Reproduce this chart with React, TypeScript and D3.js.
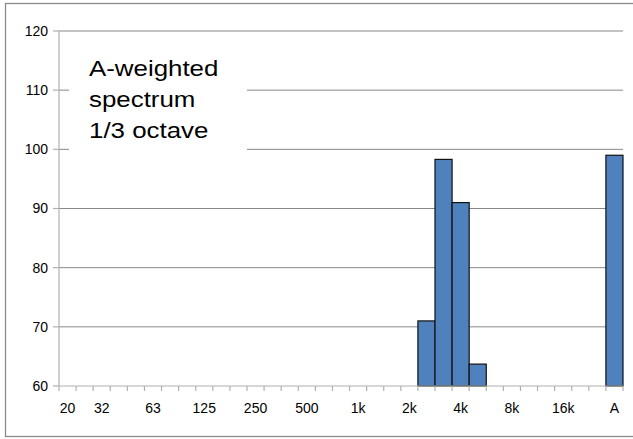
import * as d3 from 'd3';

const W = 633;
const H = 439;
const MARGIN = {top: 31, right: 10, bottom: 53, left: 59};

// 1/3 octave bands, one empty slot, then the A-weighted total
const bands = [
	'20', '25', '31.5', '40', '50', '63', '80', '100', '125', '160', '200',
	'250', '315', '400', '500', '630', '800', '1k', '1.25k', '1.6k', '2k',
	'2.5k', '3.15k', '4k', '5k', '6.3k', '8k', '10k', '12.5k', '16k', '20k',
	'gap', 'A',
];
const levels: Record<string, number> = {
	'2.5k': 71, '3.15k': 98.3, '4k': 91, '5k': 63.7, 'A': 99,
};
const tickBands = ['20', '31.5', '63', '125', '250', '500', '1k', '2k', '4k', '8k', '16k', 'A'];
const tickLabels = ['20', '32', '63', '125', '250', '500', '1k', '2k', '4k', '8k', '16k', 'A'];
const yTicks = [60, 70, 80, 90, 100, 110, 120];
const titleLines = ['A-weighted', 'spectrum', '1/3 octave'];

const FONT = '"Liberation Sans", Arial, sans-serif';

const App = () => {
	const x = d3.scaleBand<string>()
		.domain(bands)
		.range([MARGIN.left, W - MARGIN.right])
		.padding(0);
	const y = d3.scaleLinear()
		.domain([60, 120])
		.range([H - MARGIN.bottom, MARGIN.top]);

	const x0 = MARGIN.left;
	const x1 = W - MARGIN.right;
	const yBase = y(60);
	const bw = x.bandwidth();

	// tick positions on band edges
	const edges = bands.map(b => x(b) as number).concat([x1]);

	return (
		<svg width={W} height={H} style={{position: 'absolute', left: 0, top: 0}}>
			<rect x={0} y={0} width={W} height={H} fill="#fff" />
			<rect x={5.5} y={3.5} width={W} height={433} fill="none" stroke="#8a8a8a" strokeWidth={1.3} />

			{/* gridlines */}
			{yTicks.filter(t => t > 60).map(t => (
				<line key={t} x1={x0} x2={x1} y1={y(t)} y2={y(t)} stroke="#888" strokeWidth={1} />
			))}

			{/* title box */}
			<rect x={69} y={42} width={178} height={110} fill="#fff" />
			<g transform="translate(89,0) scale(1.15,1)">
				{titleLines.map((l, i) => (
					<text key={l} x={0} y={75.7 + i * 31} fontFamily={FONT} fontSize={22.5} fill="#000">{l}</text>
				))}
			</g>

			{/* bars */}
			{bands.filter(b => levels[b] !== undefined).map(b => (
				<rect key={b}
					x={x(b) as number}
					y={y(levels[b])}
					width={bw}
					height={yBase - y(levels[b])}
					fill="#4f81bd"
					stroke="#111"
					strokeWidth={1.2} />
			))}

			{/* axes */}
			<line x1={x0} x2={x0} y1={y(120)} y2={yBase} stroke="#b0b0b0" strokeWidth={1.2} />
			<line x1={x0} x2={x1} y1={yBase} y2={yBase} stroke="#b0b0b0" strokeWidth={1.2} />
			{yTicks.map(t => (
				<g key={t}>
					<line x1={x0 - 6} x2={x0} y1={y(t)} y2={y(t)} stroke="#b0b0b0" strokeWidth={1.2} />
					<text x={48} y={y(t)} dy="0.35em" textAnchor="end" fontFamily={FONT} fontSize={14} fill="#000">{t}</text>
				</g>
			))}
			{edges.map((e, i) => (
				<line key={i} x1={e} x2={e} y1={yBase} y2={yBase + 5} stroke="#b0b0b0" strokeWidth={1.2} />
			))}
			{tickBands.map((b, i) => (
				<text key={b} x={(x(b) as number) + bw / 2} y={413} textAnchor="middle" fontFamily={FONT} fontSize={14} fill="#000">{tickLabels[i]}</text>
			))}
		</svg>
	);
};

export default App;
